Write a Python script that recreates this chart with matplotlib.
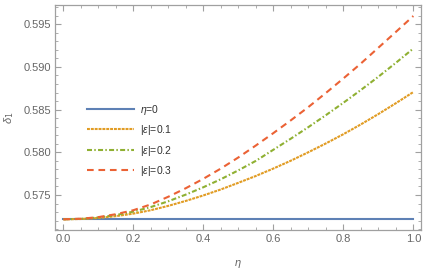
import numpy as np
import matplotlib
matplotlib.use("Agg")
from matplotlib import pyplot as plt
from matplotlib.ticker import MultipleLocator

plt.rcParams['font.family'] = ['Liberation Sans', 'DejaVu Sans']
plt.rcParams['mathtext.fontset'] = 'custom'
plt.rcParams['mathtext.it'] = 'Liberation Sans:italic'

# values
eta = [0.0, 0.05, 0.1, 0.15, 0.2, 0.25, 0.3, 0.35, 0.4, 0.45, 0.5,
       0.55, 0.6, 0.65, 0.7, 0.75, 0.8, 0.85, 0.9, 0.95, 1.0]
d_eta0 = [0.57215] * len(eta)
d_eps1 = [0.57215, 0.57219, 0.57231, 0.57252, 0.57282, 0.57322, 0.57373,
          0.57431, 0.57495, 0.57565, 0.57643, 0.57723, 0.57810, 0.57902,
          0.58001, 0.58104, 0.58212, 0.58327, 0.58448, 0.58575, 0.58706]
d_eps2 = [0.57215, 0.57221, 0.57237, 0.57265, 0.57305, 0.57359, 0.57427,
          0.57505, 0.57591, 0.57685, 0.57789, 0.57900, 0.58030, 0.58160,
          0.58295, 0.58435, 0.58580, 0.58730, 0.58885, 0.59048, 0.59216]
d_eps3 = [0.57215, 0.57222, 0.57241, 0.57275, 0.57322, 0.57390, 0.57480,
          0.57580, 0.57690, 0.57810, 0.57940, 0.58080, 0.58225, 0.58375,
          0.58530, 0.58695, 0.58865, 0.59040, 0.59225, 0.59410, 0.59597]
labels = [r'$\eta$=0', r'|$\epsilon$|=0.1', r'|$\epsilon$|=0.2', r'|$\epsilon$|=0.3']

fig = plt.figure(figsize=(4.27, 2.73), dpi=100)
ax = fig.add_axes([0.129, 0.1575, 0.857, 0.8255])

ax.plot(eta, d_eta0, color='#5E81B5', lw=1.5, label=labels[0])
ax.plot(eta, d_eps1, color='#E19C24', lw=1.5, ls=(0, (1.4, 0.45)), label=labels[1])
ax.plot(eta, d_eps2, color='#8FB032', lw=1.5, ls=(0, (2.4, 1.1, 0.7, 1.1)), label=labels[2])
ax.plot(eta, d_eps3, color='#EB6235', lw=1.5, ls=(0, (3.2, 2.3)), label=labels[3])

ax.set_xlim(-0.0237, 1.022)
ax.set_ylim(0.5709, 0.5973)
ax.xaxis.set_major_locator(MultipleLocator(0.2))
ax.xaxis.set_minor_locator(MultipleLocator(0.05))
ax.yaxis.set_major_locator(MultipleLocator(0.005))
ax.yaxis.set_minor_locator(MultipleLocator(0.001))
ax.xaxis.set_major_formatter(plt.FuncFormatter(lambda v, p: '%.1f' % v))
ax.yaxis.set_major_formatter(plt.FuncFormatter(lambda v, p: '%.3f' % v))

gray = '#a0a0a0'
for s in ax.spines.values():
    s.set_color(gray)
    s.set_linewidth(0.9)
ax.tick_params(which='both', direction='in', top=True, right=True, color=gray,
               labelcolor='#666666', labelsize=8, pad=3)
ax.tick_params(which='major', length=4, width=0.8)
ax.tick_params(which='minor', length=2, width=0.6)

ax.set_xlabel(r'$\eta$', color='#666666', fontsize=8, labelpad=10)
ax.set_ylabel(r'$\delta_1$', color='#666666', fontsize=8, labelpad=5)

leg = ax.legend(loc='center left', bbox_to_anchor=(0.074, 0.398), frameon=False,
                fontsize=7.5, handlelength=4.5, handletextpad=0.6,
                labelspacing=0.62, borderpad=0)
for t in leg.get_texts():
    t.set_color('#333333')

fig.savefig('out.png', dpi=100)
